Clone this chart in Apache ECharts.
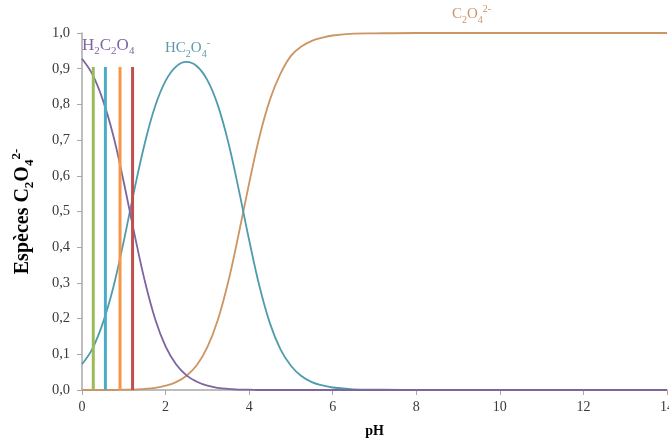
<!DOCTYPE html>
<html>
<head>
<meta charset="utf-8">
<script src="https://cdn.jsdelivr.net/npm/echarts@6/dist/echarts.min.js"></script>
<style>html,body{margin:0;padding:0;background:#fff}#c{width:669px;height:441px}</style>
</head>
<body>
<div id="c"></div>
<script>
// pH sample points
const pH = [0,0.25,0.5,0.75,1,1.25,1.5,1.75,2,2.25,2.5,2.75,3,3.25,3.5,3.75,4,4.25,4.5,4.75,5,5.25,5.5,5.75,6,6.5,7,8,9,10,11,12,13,14];
// fractions
const H2C2O4 = [0.928,0.884,0.812,0.712,0.582,0.440,0.307,0.199,0.122,0.072,0.041,0.023,0.012,0.006,0.003,0.001,0.001,0,0,0,0,0,0,0,0,0,0,0,0,0,0,0,0,0];
const HC2O4  = [0.072,0.116,0.188,0.288,0.417,0.559,0.690,0.795,0.866,0.906,0.919,0.907,0.868,0.798,0.694,0.562,0.420,0.289,0.186,0.114,0.068,0.039,0.022,0.013,0.007,0.002,0.001,0,0,0,0,0,0,0];
const C2O4   = [0,0,0,0,0.001,0.001,0.003,0.006,0.012,0.022,0.040,0.070,0.120,0.196,0.303,0.437,0.579,0.711,0.814,0.886,0.936,0.962,0.978,0.987,0.993,0.998,0.999,1,1,1,1,1,1,1];
// vertical marker lines (pH positions and height)
const markerPH = [0.27, 0.56, 0.91, 1.21];
const markerTop = 0.905;
const xTicks = [0,2,4,6,8,10,12,14];

const FONT = "'Liberation Serif','Times New Roman',serif";
const zip = (xs, ys) => xs.map((x, i) => [x, ys[i]]);
const markerColors = ['#9BBB59', '#4BACC6', '#F79646', '#C0504D'];

const chart = echarts.init(document.getElementById('c'), null, {renderer: 'canvas'});
const curve = (name, data, color) => ({
  name, type: 'line', data, smooth: 0.4, showSymbol: false, symbol: 'none',
  lineStyle: {color, width: 1.8}, z: 2, animation: false
});
const series = [
  curve('C2O4', zip(pH, C2O4), '#CC9564'),
  curve('HC2O4', zip(pH, HC2O4), '#4F9BAE'),
  curve('H2C2O4', zip(pH, H2C2O4), '#7F64A0')
];
markerPH.forEach((x, i) => {
  series.push({
    type: 'line', data: [[x, 0], [x, markerTop]], showSymbol: false, symbol: 'none',
    lineStyle: {color: markerColors[i], width: 3}, z: 3, animation: false
  });
});

const rich = (size, color, bold) => {
  const s = Math.round(size * 0.64);
  const w = bold ? 'bold' : 'normal';
  return {
    n: {fontSize: size, fontFamily: FONT, color, fill: color, fontWeight: w, lineHeight: size + 6, verticalAlign: 'middle'},
    sub: {fontSize: s, fontFamily: FONT, color, fill: color, fontWeight: w, lineHeight: s + 1, verticalAlign: 'bottom'},
    sup: {fontSize: s, fontFamily: FONT, color, fill: color, fontWeight: w, lineHeight: s + 1, verticalAlign: 'top'}
  };
};

chart.setOption({
  animation: false,
  backgroundColor: '#ffffff',
  grid: {left: 82, right: 2, top: 33, bottom: 51, containLabel: false, outerBoundsMode: 'none'},
  xAxis: {
    type: 'value', min: 0, max: 14, interval: 2,
    name: 'pH', nameLocation: 'middle', nameGap: 34,
    nameTextStyle: {fontFamily: FONT, fontWeight: 'bold', fontSize: 14, color: '#000'},
    axisLine: {show: true, lineStyle: {color: '#A8A8A8', width: 1.5}},
    axisTick: {show: true, length: 5, lineStyle: {color: '#A8A8A8'}},
    axisLabel: {fontFamily: FONT, fontSize: 14, color: '#3a3a3a', margin: 10,
      formatter: v => xTicks.includes(v) ? String(v) : ''},
    splitLine: {show: false}
  },
  yAxis: {
    type: 'value', min: 0, max: 1, interval: 0.1,
    name: '{n|Espèces C}{sub|2}{n|O}{sub|4}{sup|2-}', nameLocation: 'middle', nameGap: 46, nameRotate: 90,
    nameTextStyle: {rich: rich(20, '#000', true)},
    axisLine: {show: true, lineStyle: {color: '#A8A8A8', width: 1.5}},
    axisTick: {show: true, length: 5, lineStyle: {color: '#A8A8A8'}},
    axisLabel: {fontFamily: FONT, fontSize: 14.5, color: '#3a3a3a', margin: 12,
      formatter: v => v.toFixed(1).replace('.', ',')},
    splitLine: {show: false}
  },
  graphic: [
    {type: 'text', left: 82, top: 37, z: 10, style: {text: '{n|H}{sub|2}{n|C}{sub|2}{n|O}{sub|4}', fill: '#8064A2', rich: rich(17, '#8064A2', false)}},
    {type: 'text', left: 165, top: 38, z: 10, style: {text: '{n|HC}{sub|2}{n|O}{sub|4}{sup|-}', fill: '#5A9AAA', rich: rich(15, '#5A9AAA', false)}},
    {type: 'text', left: 452, top: 4, z: 10, style: {text: '{n|C}{sub|2}{n|O}{sub|4}{sup|2-}', fill: '#C9946A', rich: rich(15, '#C9946A', false)}}
  ],
  series
});
</script>
</body>
</html>
